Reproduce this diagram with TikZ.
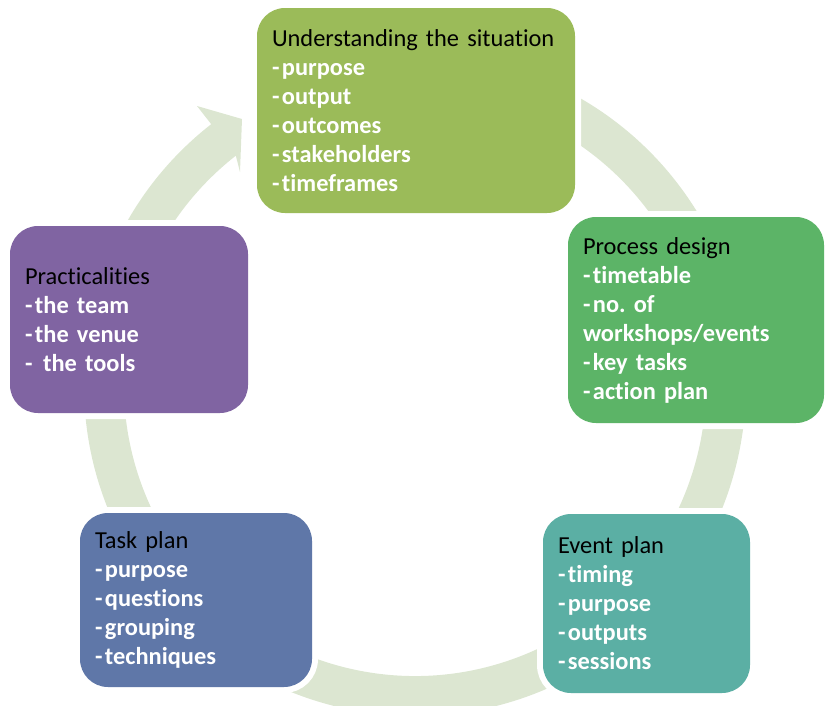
\documentclass[tikz,border=0pt]{standalone}
\usepackage{fontspec}
\setmainfont[Ligatures=NoCommon]{Carlito}
\definecolor{cUnd}{HTML}{9BBB59}
\definecolor{cProc}{HTML}{5CB467}
\definecolor{cPrac}{HTML}{8064A2}
\definecolor{cTask}{HTML}{5F77A8}
\definecolor{cEvt}{HTML}{5BAFA4}
\definecolor{cRing}{HTML}{DCE6D1}
\newcommand\bitem[1]{{\bfseries\color{white}-\hspace{2.5pt}#1}}
\newcommand\bcont[1]{{\bfseries\color{white}#1}}
\newcommand\tightsp{\spaceskip=4.2pt\relax}
\frenchspacing
\begin{document}
\begin{tikzpicture}[x=1pt,y=-1pt,
  box/.style={rounded corners=28pt, inner xsep=15pt, inner ysep=0pt, align=left,
    font=\fontsize{24.4}{29}\selectfont\frenchspacing\tightsp, text=black,
    preaction={draw=white,line width=12pt}},
  ring/.style={fill=cRing}]
\useasboundingbox (0,0) rectangle (825,705);
\coordinate (c) at (415,385);
% circular arrow
\fill[ring] (c) ++(-128:331) arc[start angle=-128, end angle=-435, radius=331]
  -- (490.3,103.9) arc[start angle=-435, end angle=-128, radius=291]
  -- (240,172) -- (242,119) -- (197,106) -- cycle;
% boxes
\node[box, fill=cUnd, text width=288pt, minimum height=205pt] (und) at (416,110.5)
  {Understanding the situation\\ \bitem{purpose}\\ \bitem{output}\\ \bitem{outcomes}\\ \bitem{stakeholders}\\ \bitem{timeframes}};
\node[box, fill=cProc, text width=226pt, minimum height=206pt] (proc) at (696,320)
  {Process design\\ \bitem{timetable}\\ \bitem{no. of}\\ \bcont{workshops/events}\\ \bitem{key tasks}\\ \bitem{action plan}};
\node[box, fill=cPrac, text width=208pt, minimum height=187pt] (prac) at (129,319.5)
  {Practicalities\\ \bitem{the team}\\ \bitem{the venue}\\ \bitem{\ the tools}};
\node[box, fill=cTask, text width=202pt, minimum height=174pt] (task) at (196,600)
  {Task plan\\ \bitem{purpose}\\ \bitem{questions}\\ \bitem{grouping}\\ \bitem{techniques}};
\node[box, fill=cEvt, text width=177pt, minimum height=179pt] (evt) at (646.5,603.5)
  {Event plan\\ \bitem{timing}\\ \bitem{purpose}\\ \bitem{outputs}\\ \bitem{sessions}};
\end{tikzpicture}
\end{document}
